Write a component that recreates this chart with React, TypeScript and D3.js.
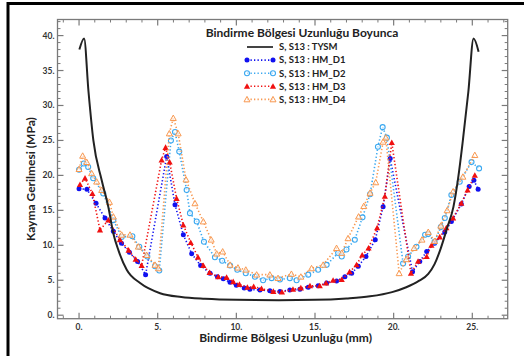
import React from "react";
import * as d3 from "d3";

// TYSM (analytic) curve
const tysmX = [0.02, 0.32, 0.6, 0.91, 1.44, 1.86, 2.18, 2.5, 3.03, 3.88, 5.15, 6.5, 8, 10, 12.7, 15, 17, 18.5, 19.9, 20.8, 21.6, 22.2, 22.6, 23.0, 23.4, 23.8, 24.1, 24.4, 24.75, 25.08, 25.4];
const tysmY = [38.0, 39.6, 32.0, 25.0, 19.3, 15.5, 11.7, 9.3, 6.5, 4.6, 3.15, 2.6, 2.35, 2.2, 2.15, 2.2, 2.4, 2.7, 3.3, 4.0, 4.9, 5.9, 7.3, 9.6, 12.5, 15.5, 19.6, 25.0, 32.0, 39.6, 37.7];

// HM_D1
const d1X = [0, 0.5, 1.08, 1.65, 2.18, 2.7, 3.2, 3.72, 4.23, 5.57, 6.1, 6.63, 7.16, 7.73, 8.33, 8.8, 9.17, 9.6, 10.0, 10.5, 10.86, 11.5, 12.13, 12.77, 13.4, 14.04, 14.57, 15.2, 15.74, 16.37, 16.9, 17.33, 17.75, 18.24, 18.83, 19.33, 19.78, 21.2, 21.66, 22.1, 22.6, 23.25, 23.67, 24.3, 24.8, 25.1, 25.37];
const d1Y = [18.1, 18.0, 16.0, 13.9, 12.0, 10.3, 9.0, 7.7, 5.8, 22.7, 15.8, 11.5, 8.8, 7.1, 6.0, 5.5, 5.2, 4.7, 4.3, 3.9, 3.7, 3.6, 3.5, 3.4, 3.6, 3.7, 4.0, 4.2, 4.6, 4.9, 5.5, 6.0, 7.0, 8.4, 10.8, 15.5, 22.4, 6.2, 7.7, 9.1, 10.3, 11.9, 13.4, 15.9, 18.4, 19.3, 18.0];

// HM_D2
const d2X = [0, 0.3, 0.58, 0.9, 1.54, 2.18, 2.71, 3.39, 3.83, 4.34, 4.83, 5.1, 5.84, 6.1, 6.37, 6.84, 7.05, 7.48, 7.94, 8.64, 9.1, 9.6, 10.06, 10.6, 11.18, 11.7, 12.24, 12.77, 13.4, 13.83, 14.57, 15.2, 15.74, 16.47, 16.7, 17.0, 17.53, 18.02, 18.5, 19.0, 19.3, 19.57, 20.6, 20.92, 21.45, 22.0, 22.2, 22.6, 23.0, 23.25, 23.67, 24.2, 24.95, 25.43];
const d2Y = [20.8, 21.7, 21.2, 19.6, 17.4, 13.6, 11.2, 11.3, 9.8, 8.4, 7.0, 6.4, 25.0, 26.2, 23.4, 17.9, 14.6, 13.4, 10.5, 8.3, 7.8, 7.1, 6.5, 6.0, 5.5, 5.0, 5.3, 5.1, 5.3, 5.0, 5.8, 6.5, 7.2, 8.9, 8.4, 9.4, 10.8, 14.0, 17.3, 24.1, 26.9, 25.4, 7.4, 8.4, 9.8, 11.5, 11.6, 10.5, 12.6, 13.9, 17.2, 19.1, 21.9, 21.0];

// HM_D3
const d3X = [0.06, 0.38, 0.85, 1.33, 1.86, 2.6, 3.15, 3.6, 3.98, 5.25, 5.5, 5.76, 6.2, 6.63, 7.1, 7.56, 7.9, 8.3, 8.85, 9.38, 9.8, 10.2, 10.7, 11.1, 11.6, 12.35, 12.9, 13.6, 14.1, 14.68, 15.3, 15.7, 16.15, 16.7, 17.2, 17.64, 18.0, 18.4, 18.95, 19.44, 19.88, 21.1, 21.55, 22.1, 22.4, 22.93, 23.35, 23.78, 24.3, 24.7, 25.16];
const d3Y = [18.7, 19.6, 17.4, 12.2, 13.6, 10.8, 9.3, 8.0, 7.1, 22.2, 24.0, 21.9, 16.7, 12.9, 10.4, 8.3, 7.1, 6.1, 5.5, 5.4, 4.8, 4.4, 4.0, 4.1, 3.8, 3.4, 3.3, 3.7, 3.9, 4.2, 4.2, 4.6, 5.0, 5.1, 6.2, 7.2, 8.6, 9.6, 12.5, 17.0, 24.7, 6.0, 7.7, 8.4, 10.0, 11.2, 12.5, 13.9, 16.0, 17.9, 20.0];

// HM_D4
const d4X = [0, 0.23, 0.49, 0.8, 1.12, 1.44, 1.93, 2.18, 2.71, 3.24, 3.77, 4.3, 4.83, 5.04, 5.74, 5.99, 6.3, 6.8, 7.37, 7.9, 8.4, 8.75, 9.13, 9.6, 10.1, 10.6, 11.29, 12.13, 12.65, 13.5, 14.1, 14.78, 15.52, 16.37, 16.7, 17.1, 17.77, 18.1, 18.5, 18.86, 19.33, 19.5, 20.35, 20.8, 21.3, 21.8, 22.2, 22.6, 23.0, 23.4, 23.78, 24.4, 25.16];
const d4Y = [20.9, 22.8, 21.9, 20.3, 19.1, 17.9, 16.2, 14.1, 11.5, 11.5, 9.8, 8.6, 7.2, 6.7, 26.0, 28.2, 26.0, 19.4, 16.0, 13.4, 10.8, 8.8, 9.1, 7.2, 6.8, 6.5, 5.8, 5.8, 5.3, 5.9, 5.5, 6.7, 7.2, 9.6, 8.9, 11.0, 14.1, 15.6, 17.5, 19.0, 24.8, 25.4, 6.0, 8.0, 9.6, 10.8, 11.9, 10.6, 12.8, 15.0, 17.7, 19.8, 22.9];

const legendLabels = ["S, S13 : TYSM", "S, S13 : HM_D1", "S, S13 : HM_D2", "S, S13 : HM_D3", "S, S13 : HM_D4"];
const xMajor = [0, 5, 10, 15, 20, 25];
const yMajor = [0, 5, 10, 15, 20, 25, 30, 35, 40];

const font = "Lato, 'Open Sans', sans-serif";
const axisColor = "#7a7a7a";

const series = [
    { xs: d1X, ys: d1Y, color: "#1010f0", marker: "circle", filled: true },
    { xs: d2X, ys: d2Y, color: "#3aa8f0", marker: "circle", filled: false },
    { xs: d3X, ys: d3Y, color: "#f01010", marker: "triangle", filled: true },
    { xs: d4X, ys: d4Y, color: "#f89850", marker: "triangle", filled: false },
];

const Marker = ({ type, filled, color, cx, cy }: any) => {
    if (type === "circle") {
        return filled ? (
            <circle cx={cx} cy={cy} r={2.5} fill={color} />
        ) : (
            <circle cx={cx} cy={cy} r={2.5} fill="#fff" fillOpacity={0.6} stroke={color} strokeWidth={1.1} />
        );
    }
    const s = filled ? 3.1 : 3.0;
    const pts = `${cx},${cy - s} ${cx - s},${cy + s * 0.8} ${cx + s},${cy + s * 0.8}`;
    return filled ? (
        <polygon points={pts} fill={color} />
    ) : (
        <polygon points={pts} fill="#fff" fillOpacity={0.6} stroke={color} strokeWidth={1} />
    );
};

export default function App() {
    const W = 524;
    const H = 356;
    const left = 57.5;
    const right = 507.7;
    const top = 19.5;
    const bottom = 318.7;

    const x = d3.scaleLinear().domain([-1.37, 27.25]).range([left, right]);
    const y = d3.scaleLinear().domain([-0.5, 42.3]).range([bottom, top]);

    const xMinor = d3.range(-1, 28, 1).filter((v) => !xMajor.includes(v));
    const yMinor = d3.range(0, 43, 1).filter((v) => !yMajor.includes(v));

    const line = d3
        .line<[number, number]>()
        .x((d) => x(d[0]))
        .y((d) => y(d[1]));
    const smooth = d3
        .line<[number, number]>()
        .x((d) => x(d[0]))
        .y((d) => y(d[1]))
        .curve(d3.curveMonotoneX);

    const tysm = tysmX.map((v, i) => [v, tysmY[i]] as [number, number]);

    const legendTop = 47;
    const legendStep = 13.1;

    return (
        <svg width={W} height={H} style={{ position: "absolute", left: 0, top: 0, background: "#fff" }}>
            {/* outer frame */}
            <line x1={8} x2={W} y1={3.5} y2={3.5} stroke="#000" strokeWidth={3} />
            <line x1={8} x2={8} y1={2} y2={H} stroke="#000" strokeWidth={3} />

            {/* axes box */}
            <rect x={left} y={top} width={right - left} height={bottom - top} fill="none" stroke={axisColor} strokeWidth={1.3} />
            {xMajor.map((t) => (
                <g key={`xm${t}`}>
                    <line x1={x(t)} x2={x(t)} y1={bottom} y2={bottom - 6} stroke={axisColor} strokeWidth={1.2} />
                    <line x1={x(t)} x2={x(t)} y1={top} y2={top + 6} stroke={axisColor} strokeWidth={1.2} />
                    <text x={x(t)} y={329.5} textAnchor="middle" fontFamily={font} fontWeight="bold" fontSize={8.5} fill="#333">
                        {`${t}.`}
                    </text>
                </g>
            ))}
            {xMinor.map((t) => (
                <g key={`xn${t}`}>
                    <line x1={x(t)} x2={x(t)} y1={bottom} y2={bottom - 3} stroke={axisColor} strokeWidth={1} />
                    <line x1={x(t)} x2={x(t)} y1={top} y2={top + 3} stroke={axisColor} strokeWidth={1} />
                </g>
            ))}
            {yMajor.map((t) => (
                <g key={`ym${t}`}>
                    <line x1={left} x2={left + 6} y1={y(t)} y2={y(t)} stroke={axisColor} strokeWidth={1.2} />
                    <line x1={right} x2={right - 6} y1={y(t)} y2={y(t)} stroke={axisColor} strokeWidth={1.2} />
                    <text x={left - 3} y={y(t)} dy="0.35em" textAnchor="end" fontFamily={font} fontWeight="bold" fontSize={8.5} fill="#333">
                        {`${t}.`}
                    </text>
                </g>
            ))}
            {yMinor.map((t) => (
                <g key={`yn${t}`}>
                    <line x1={left} x2={left + 3} y1={y(t)} y2={y(t)} stroke={axisColor} strokeWidth={1} />
                    <line x1={right} x2={right - 3} y1={y(t)} y2={y(t)} stroke={axisColor} strokeWidth={1} />
                </g>
            ))}

            {/* axis titles */}
            <text x={(left + right) / 2 + 3} y={342} textAnchor="middle" fontFamily={font} fontWeight="bold" fontSize={12} fill="#222">
                Bindirme Bölgesi Uzunluğu (mm)
            </text>
            <text
                transform={`translate(35,${(top + bottom) / 2 + 10}) rotate(-90)`}
                textAnchor="middle"
                fontFamily={font}
                fontWeight="bold"
                fontSize={12}
                fill="#222"
            >
                Kayma Gerilmesi (MPa)
            </text>

            {/* series */}
            {series.map((s, i) => {
                const pts = s.xs.map((v, j) => [v, s.ys[j]] as [number, number]);
                return (
                    <g key={`s${i}`}>
                        <path d={line(pts) || ""} fill="none" stroke={s.color} strokeWidth={1.6} strokeDasharray="1.3 2.2" />
                        {pts.map((p, j) => (
                            <Marker key={j} type={s.marker} filled={s.filled} color={s.color} cx={x(p[0])} cy={y(p[1])} />
                        ))}
                    </g>
                );
            })}
            <path d={smooth(tysm) || ""} fill="none" stroke="#222" strokeWidth={2} />

            {/* legend */}
            <text x={302} y={37} textAnchor="middle" fontFamily={font} fontWeight="bold" fontSize={12} fill="#222">
                Bindirme Bölgesi Uzunluğu Boyunca
            </text>
            {legendLabels.map((l, i) => {
                const ly = legendTop + i * legendStep;
                const s = i > 0 ? series[i - 1] : null;
                return (
                    <g key={`lg${i}`}>
                        {s ? (
                            <>
                                <line x1={247} x2={273} y1={ly} y2={ly} stroke={s.color} strokeWidth={1.6} strokeDasharray="1.3 2.2" />
                                <Marker type={s.marker} filled={s.filled} color={s.color} cx={247} cy={ly} />
                                <Marker type={s.marker} filled={s.filled} color={s.color} cx={273} cy={ly} />
                            </>
                        ) : (
                            <line x1={247} x2={273} y1={ly} y2={ly} stroke="#444" strokeWidth={2} />
                        )}
                        <text x={279} y={ly} dy="0.35em" fontFamily={font} fontWeight="bold" fontSize={9.5} fill="#222">
                            {l}
                        </text>
                    </g>
                );
            })}
        </svg>
    );
}
